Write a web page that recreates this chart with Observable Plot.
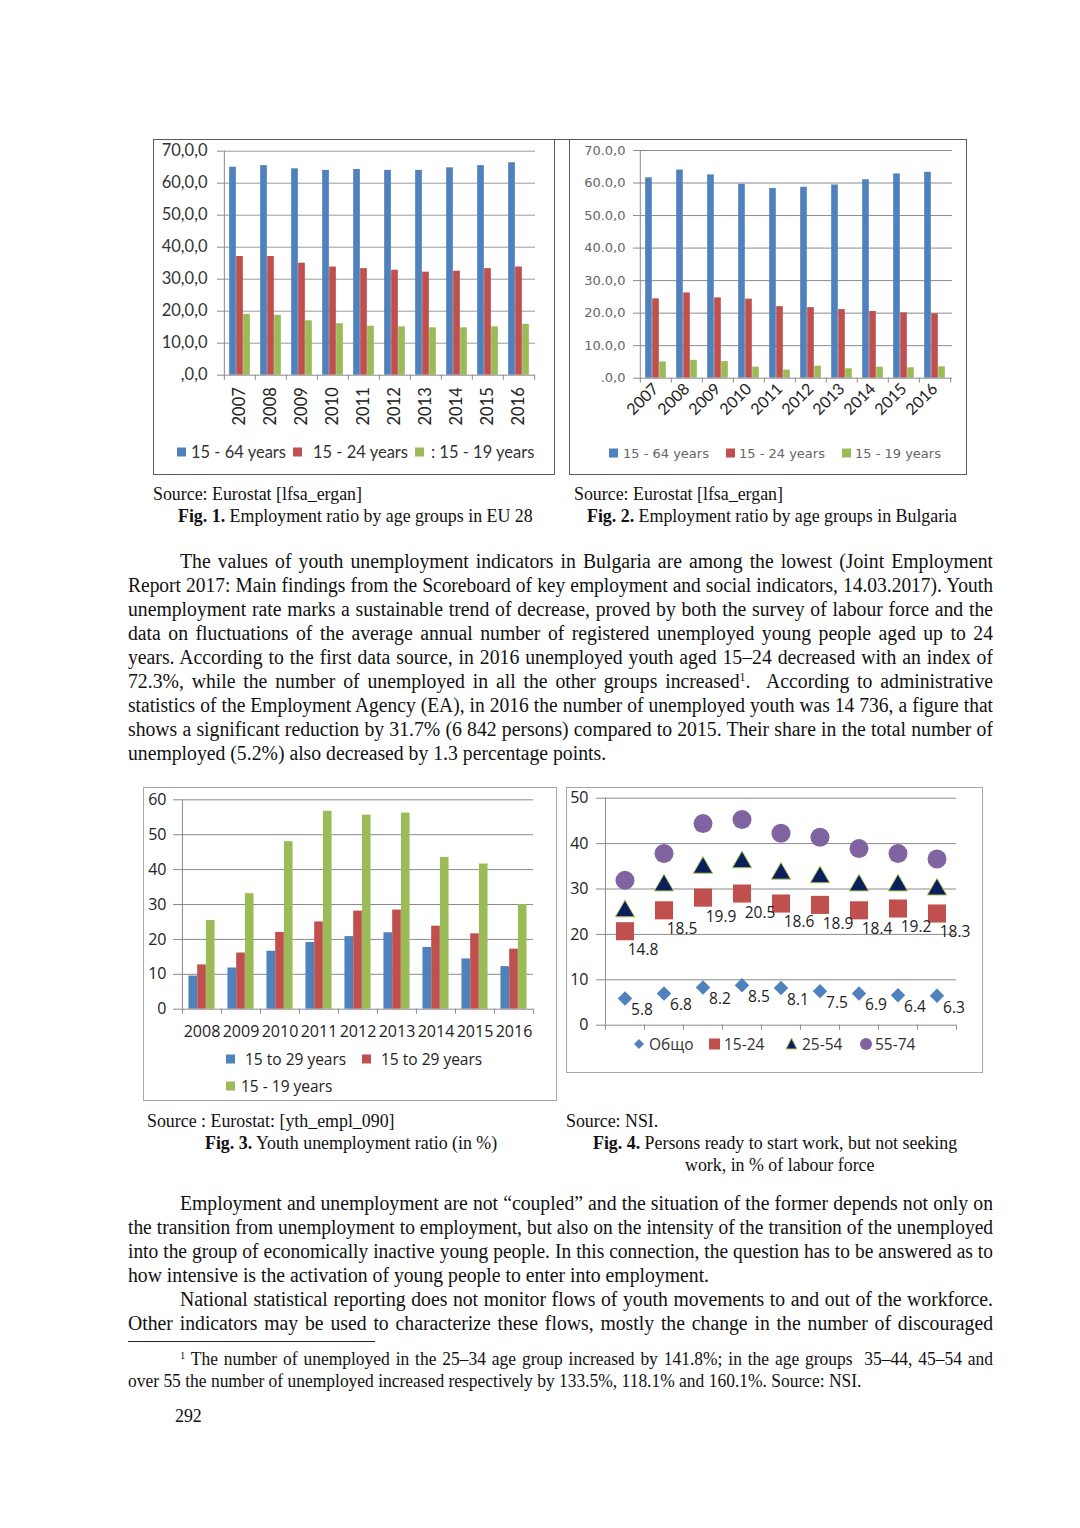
<!DOCTYPE html>
<html><head><meta charset="utf-8">
<script src="https://cdn.jsdelivr.net/npm/d3@7"></script>
<script src="https://cdn.jsdelivr.net/npm/@observablehq/plot@0.6"></script>
<style>
body{margin:0;background:#fff;}
#page{position:relative;width:1080px;height:1528px;background:#fff;overflow:hidden;font-family:"Liberation Serif","Times New Roman",serif;color:#111;}
.box{position:absolute;box-sizing:border-box;}
.ln{position:absolute;white-space:normal;overflow:hidden;transform-origin:0 0;}
.j{text-align:justify;text-align-last:justify;}
.leg{position:absolute;white-space:nowrap;display:flex;align-items:center;}
.chart{position:absolute;}
sup{font-size:60%;vertical-align:0;position:relative;top:-0.55em;}
</style></head>
<body><div id="page"></div>
<script>
// ---------- DATA ----------
const years12 = ["2007","2008","2009","2010","2011","2012","2013","2014","2015","2016"];
const eu_15_64 = [65.0,65.5,64.5,64.0,64.3,64.0,64.0,64.8,65.5,66.4];
const eu_15_24 = [37.1,37.1,35.0,33.8,33.3,32.8,32.2,32.5,33.3,33.8];
const eu_15_19 = [19.0,18.7,17.0,16.1,15.3,15.1,14.8,14.8,15.1,15.9];
const bg_15_64 = [61.6,64.0,62.5,59.6,58.3,58.7,59.4,61.0,62.8,63.3];
const bg_15_24 = [24.4,26.2,24.7,24.3,22.0,21.7,21.1,20.5,20.1,19.8];
const bg_15_19 = [5.0,5.5,5.1,3.4,2.5,3.7,2.9,3.4,3.2,3.5];
const ticks12 = [0,10,20,30,40,50,60,70];
const tickLabels1 = [",0,0","10,0,0","20,0,0","30,0,0","40,0,0","50,0,0","60,0,0","70,0,0"];
const tickLabels2 = [".0,0","10.0,0","20.0,0","30.0,0","40.0,0","50.0,0","60.0,0","70.0,0"];
const legend1 = ["15 - 64 years","15 - 24 years",": 15 - 19 years"];
const legend2 = ["15 - 64 years","15 - 24 years","15 - 19 years"];

const years34 = ["2008","2009","2010","2011","2012","2013","2014","2015","2016"];
const ur_15_29a = [9.5,11.8,16.6,19.1,20.8,21.9,17.7,14.4,12.2];
const ur_15_29b = [12.7,16.1,22.0,25.0,28.1,28.4,23.8,21.6,17.2];
const ur_15_19 = [25.4,33.1,48.0,56.7,55.6,56.2,43.5,41.6,30.0];
const ticks3 = [0,10,20,30,40,50,60];
const legend3 = ["15 to 29 years","15 to 29 years","15 - 19 years"];

const nsi_total = [5.9,7.0,8.3,8.8,8.2,7.5,7.0,6.6,6.5];
const nsi_15_24 = [20.7,25.3,28.1,29.0,26.8,26.5,25.3,25.7,24.6];
const nsi_25_54 = [25.1,30.8,34.7,35.9,33.4,32.6,30.8,30.8,29.9];
const nsi_55_74 = [31.9,37.8,44.4,45.3,42.3,41.4,38.9,37.8,36.6];
const lbl_total = [5.8,6.8,8.2,8.5,8.1,7.5,6.9,6.4,6.3];
const lbl_15_24 = [14.8,18.5,19.9,20.5,18.6,18.9,18.4,19.2,18.3];
const ticks4 = [0,10,20,30,40,50];
const legend4 = ["Общо","15-24","25-54","55-74"];

const BLUE="#4F81BD", RED="#C0504D", GREEN="#9BBB59", PURPLE="#8064A2", NAVY="#0B1F5C";

// ---------- HELPERS ----------
const page = document.getElementById("page");
function div(cls, css, html){ const d=document.createElement("div"); if(cls) d.className=cls; Object.assign(d.style,css); if(html!=null) d.innerHTML=html; page.appendChild(d); return d; }

function bars(o){
  const n=o.cats.length, k=o.series.length;
  const step=(o.width-o.ml-o.mr)/n;
  const bw=step*o.group/k, off=(step-bw*k)/2;
  const unit=o.ymax/(o.height-o.mt-o.mb);
  const tk=5*unit;
  const marks=[
    Plot.ruleY(o.ticks.filter(t=>t>0),{stroke:o.grid}),
    ...o.series.map((s,i)=>Plot.barY(o.cats,{x:d=>d,y:(d,j)=>s.values[j],fill:s.color,insetLeft:off+i*bw,insetRight:step-off-(i+1)*bw})),
    Plot.ruleY([0],{stroke:o.axis}),
    Plot.ruleX([o.cats[0]],{x:d=>d,dx:-step/2,y1:0,y2:o.ymax,stroke:o.axis}),
    Plot.ruleX(o.cats,{x:d=>d,dx:-step/2,y1:0,y2:-tk,stroke:o.axis}),
    Plot.ruleX([o.cats[n-1]],{x:d=>d,dx:step/2,y1:0,y2:-tk,stroke:o.axis}),
    Plot.axisY({ticks:o.ticks,tickFormat:d=>o.tickLabels[o.ticks.indexOf(d)],tickSize:o.yTick,tickPadding:o.yPad,fontSize:o.yFont,fill:o.yColor,stroke:o.axis,fontFamily:o.yFamily}),
    Plot.axisX({tickSize:0,tickPadding:o.xPad,tickRotate:o.rotate||0,fontSize:o.xFont,fill:o.xColor,fontFamily:o.xFamily})
  ];
  return Plot.plot({width:o.width,height:o.height,marginLeft:o.ml,marginRight:o.mr,marginTop:o.mt,marginBottom:o.mb,
    style:{background:"transparent",overflow:"visible"},
    x:{type:"band",domain:o.cats,padding:0},y:{domain:[0,o.ymax]},marks});
}

function place(svg,left,top){ const d=div("chart",{left:left+"px",top:top+"px"}); d.appendChild(svg); }

function legend(items, top, font, size, color){
  items.forEach(it=>{
    const d=div("leg",{left:it.left+"px",top:(top-12)+"px",height:"24px",fontFamily:font,fontSize:size+"px",color:color});
    d.innerHTML=`<svg width="${it.sw||10}" height="14" style="margin-right:${it.gap}px;overflow:visible">${it.shape}</svg><span>${it.label}</span>`;
  });
}
const sq=(c,s=9)=>`<rect x="0" y="${7-s/2}" width="${s}" height="${s}" fill="${c}"/>`;

// ---------- BOXES ----------
div("box",{left:"153px",top:"139px",width:"402px",height:"336px",border:"1px solid #5a5a5a"});
div("box",{left:"569px",top:"139px",width:"398px",height:"336px",border:"1px solid #5a5a5a"});
div("box",{left:"554px",top:"139px",width:"16px",height:"1px",background:"#5a5a5a"});
div("box",{left:"143px",top:"787px",width:"414px",height:"314px",border:"1.5px solid #a8a8a8"});
div("box",{left:"566px",top:"787px",width:"417px",height:"286px",border:"1.5px solid #a8a8a8"});

// ---------- FIG 1 ----------
place(bars({cats:years12,series:[{values:eu_15_64,color:BLUE},{values:eu_15_24,color:RED},{values:eu_15_19,color:GREEN}],
  width:401,height:335,ml:69,mr:19,mt:11.7,mb:99.3,ymax:70,group:0.67,ticks:ticks12,tickLabels:tickLabels1,
  grid:"#9a9a9a",axis:"#8a8a8a",yTick:5,yPad:10,yFont:16.5,yColor:"#333",yFamily:"Lato",
  xPad:12,rotate:-90,xFont:16.5,xColor:"#222",xFamily:"Lato"}),153,139.3);
legend([{left:177,label:legend1[0],shape:sq(BLUE),gap:4},{left:293,label:legend1[1],shape:sq(RED),gap:10},{left:415,label:legend1[2],shape:sq(GREEN),gap:6}],452,"Lato",16.5,"#333");

// ---------- FIG 2 ----------
place(bars({cats:years12,series:[{values:bg_15_64,color:BLUE},{values:bg_15_24,color:RED},{values:bg_15_19,color:GREEN}],
  width:396,height:335,ml:68,mr:14,mt:11,mb:96.3,ymax:70,group:0.67,ticks:ticks12,tickLabels:tickLabels2,
  grid:"#8a8a8a",axis:"#8a8a8a",yTick:5,yPad:8,yFont:13,yColor:"#666",yFamily:"DejaVu Sans",
  xPad:8,rotate:-45,xFont:16,xColor:"#222",xFamily:"Lato"}),570,139);
legend([{left:609,label:legend2[0],shape:sq(BLUE),gap:4},{left:726,label:legend2[1],shape:sq(RED),gap:3},{left:842,label:legend2[2],shape:sq(GREEN),gap:3}],453,"DejaVu Sans",13,"#666");

// ---------- FIG 3 ----------
place(bars({cats:years34,series:[{values:ur_15_29a,color:BLUE},{values:ur_15_29b,color:RED},{values:ur_15_19,color:GREEN}],
  width:413,height:313,ml:38,mr:23,mt:12.3,mb:91.3,ymax:60,group:0.67,ticks:ticks3,tickLabels:ticks3.map(String),
  grid:"#8a8a8a",axis:"#8a8a8a",yTick:8,yPad:7,yFont:16,yColor:"#222",yFamily:"Open Sans",
  xPad:16,rotate:0,xFont:16,xColor:"#222",xFamily:"Open Sans"}),143,787);
legend([{left:226,label:legend3[0],shape:sq(BLUE),gap:9},{left:362,label:legend3[1],shape:sq(RED),gap:9}],1059,"Open Sans",15.5,"#222");
legend([{left:226,label:legend3[2],shape:sq(GREEN),gap:5}],1086,"Open Sans",15.5,"#222");

// ---------- FIG 4 ----------
(function(){
  const W=416,H=285,ml=38,mr=26,mt=10.7,mb=47.3,ymax=50;
  const n=years34.length, step=(W-ml-mr)/n, unit=ymax/(H-mt-mb), tk=5*unit;
  const lab={fontFamily:"Open Sans",fontSize:15.5,fill:"#222"};
  const svg=Plot.plot({width:W,height:H,marginLeft:ml,marginRight:mr,marginTop:mt,marginBottom:mb,
    style:{background:"transparent",overflow:"visible"},
    x:{type:"band",domain:years34,padding:0},y:{domain:[0,ymax]},
    marks:[
      Plot.ruleY(ticks4,{stroke:"#8a8a8a"}),
      Plot.ruleX([years34[0]],{x:d=>d,dx:-step/2,y1:0,y2:ymax,stroke:"#8a8a8a"}),
      Plot.ruleX(years34,{x:d=>d,dx:-step/2,y1:0,y2:-tk,stroke:"#8a8a8a"}),
      Plot.ruleX([years34[n-1]],{x:d=>d,dx:step/2,y1:0,y2:-tk,stroke:"#8a8a8a"}),
      Plot.dot(years34,{x:d=>d,y:(d,i)=>nsi_total[i],symbol:"diamond2",r:6.5,fill:BLUE}),
      Plot.dot(years34,{x:d=>d,y:(d,i)=>nsi_15_24[i],symbol:"square",r:10.2,fill:RED}),
      Plot.dot(years34,{x:d=>d,y:(d,i)=>nsi_25_54[i],symbol:"triangle",r:7.2,fill:NAVY,stroke:"#b8cc60",strokeWidth:1}),
      Plot.dot(years34,{x:d=>d,y:(d,i)=>nsi_55_74[i],symbol:"circle",r:9.5,fill:PURPLE}),
      Plot.text(years34,{x:d=>d,y:(d,i)=>nsi_15_24[i],text:(d,i)=>lbl_15_24[i].toFixed(1),dx:18,dy:19,...lab}),
      Plot.text(years34,{x:d=>d,y:(d,i)=>nsi_total[i],text:(d,i)=>lbl_total[i].toFixed(1),dx:17,dy:12,...lab}),
      Plot.axisY({ticks:ticks4,tickSize:8,tickPadding:8,fontSize:16,fill:"#222",stroke:"#8a8a8a",fontFamily:"Open Sans"}),
      Plot.axisX({ticks:[],tickSize:0})
    ]});
  place(svg,566,787);
})();
legend([
  {left:634,label:legend4[0],shape:`<rect x="1.5" y="3.5" width="7" height="7" fill="${BLUE}" transform="rotate(45 5 7)"/>`,gap:5,sw:10},
  {left:709,label:legend4[1],shape:sq(RED,11),gap:4,sw:11},
  {left:786,label:legend4[2],shape:`<path d="M5.5,1 L11,12 L0,12 Z" fill="${NAVY}" stroke="#b8cc60" stroke-width="1"/>`,gap:5,sw:11},
  {left:860,label:legend4[3],shape:`<circle cx="6" cy="7" r="6" fill="${PURPLE}"/>`,gap:3,sw:12}
],1044,"Open Sans",15.5,"#333");

// ---------- TEXT ----------
function line(html,x,yc,opts={}){
  const size=opts.size||20, base=opts.sx||0.985, right=opts.right||993, lh=24;
  const avail=right-x;
  // measure natural width
  const m=div(null,{position:"absolute",left:"0px",top:"0px",visibility:"hidden",whiteSpace:"nowrap",fontSize:size+"px"},html);
  const nat=m.getBoundingClientRect().width; m.remove();
  let sx=base;
  if(opts.justify && nat*sx>avail*0.997) sx=avail*0.997/nat;
  const w=avail/sx;
  return div("ln"+(opts.justify?" j":""),{left:x+"px",top:(yc-lh/2)+"px",width:w+"px",height:lh+"px",lineHeight:lh+"px",fontSize:size+"px",transform:`scaleX(${sx})`},html);
}
const cap={size:19,sx:0.94};
// captions
line("Source: Eurostat [lfsa_ergan]",153,494,{...cap,right:560});
line("<b>Fig. 1.</b> Employment ratio by age groups in EU 28",178,516,{...cap,right:560});
line("Source: Eurostat [lfsa_ergan]",574,494,{...cap,right:1000});
line("<b>Fig. 2.</b> Employment ratio by age groups in Bulgaria",587,516,{...cap,right:1000});
line("Source : Eurostat: [yth_empl_090]",147,1121,{...cap,right:560});
line("<b>Fig. 3.</b> Youth unemployment ratio (in %)",205,1143,{...cap,right:560});
line("Source: NSI.",566,1121,{...cap,right:1000});
line("<b>Fig. 4.</b> Persons ready to start work, but not seeking",593,1143,{...cap,right:1040});
line("work, in % of labour force",685,1165,{...cap,right:1040});

const p1=[
 "The values of youth unemployment indicators in Bulgaria are among the lowest (Joint Employment",
 "Report 2017: Main findings from the Scoreboard of key employment and social indicators, 14.03.2017). Youth",
 "unemployment rate marks a sustainable trend of decrease, proved by both the survey of labour force and the",
 "data on fluctuations of the average annual number of registered unemployed young people aged up to 24",
 "years. According to the first data source, in 2016 unemployed youth aged 15–24 decreased with an index of",
 "72.3%, while the number of unemployed in all the other groups increased<sup>1</sup>. &nbsp;According to administrative",
 "statistics of the Employment Agency (EA), in 2016 the number of unemployed youth was 14 736, a figure that",
 "shows a significant reduction by 31.7% (6 842 persons) compared to 2015. Their share in the total number of",
 "unemployed (5.2%) also decreased by 1.3 percentage points."
];
p1.forEach((t,i)=>line(t,i===0?180:128,561+24*i,{justify:i<p1.length-1}));
const p2=[
 "Employment and unemployment are not “coupled” and the situation of the former depends not only on",
 "the transition from unemployment to employment, but also on the intensity of the transition of the unemployed",
 "into the group of economically inactive young people. In this connection, the question has to be answered as to",
 "how intensive is the activation of young people to enter into employment."
];
p2.forEach((t,i)=>line(t,i===0?180:128,1203+24*i,{justify:i<p2.length-1}));
const p3=[
 "National statistical reporting does not monitor flows of youth movements to and out of the workforce.",
 "Other indicators may be used to characterize these flows, mostly the change in the number of discouraged"
];
p3.forEach((t,i)=>line(t,i===0?180:128,1299+24*i,{justify:true}));
div("box",{left:"128px",top:"1341px",width:"247px",height:"1px",background:"#222"});
line("<sup>1</sup> The number of unemployed in the 25–34 age group increased by 141.8%; in the age groups &nbsp;35–44, 45–54 and",180,1359,{justify:true,size:18,sx:0.97});
line("over 55 the number of unemployed increased respectively by 133.5%, 118.1% and 160.1%. Source: NSI.",128,1381,{size:18,sx:0.97});
line("292",175,1416,{size:19,sx:0.94});
</script></body></html>
